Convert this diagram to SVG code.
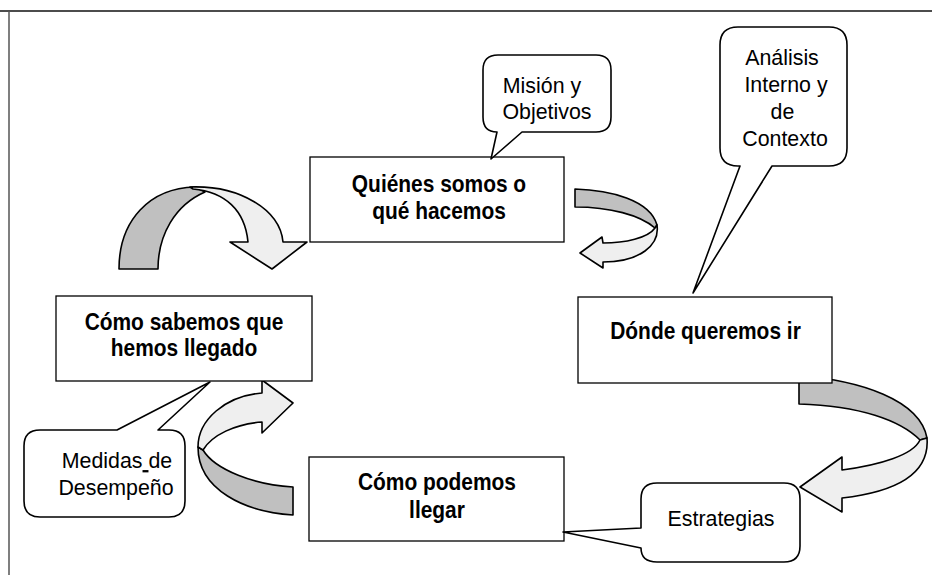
<svg xmlns="http://www.w3.org/2000/svg" width="932" height="575" viewBox="0 0 932 575">
<style>
.box{fill:#fff;stroke:#000;stroke-width:1.3}
.call{fill:#fff;stroke:#000;stroke-width:1.6;stroke-linejoin:round}
.back{fill:#c0c0c0;stroke:#000;stroke-width:1.6;stroke-linejoin:round}
.front{fill:#efefef;stroke:#000;stroke-width:1.6;stroke-linejoin:round}
.b{font-family:"Liberation Sans",Arial,sans-serif;font-weight:bold;font-size:23px;fill:#000;text-anchor:middle}
.r{font-family:"Liberation Sans",Arial,sans-serif;font-size:23px;fill:#000;text-anchor:middle}
</style>
<rect width="932" height="575" fill="#fff"/>
<line x1="0" y1="11" x2="932" y2="11" stroke="#111" stroke-width="1.5"/>
<line x1="9" y1="11" x2="9" y2="575" stroke="#555" stroke-width="1.5"/>

<g id="connectors">
  <g id="arrow-top-left">
    <path class="back" d="M119,269 C119,220 150,188 195,187 L205,192 C175,205 158,235 158,269 Z"/>
    <path class="front" d="M190,187 C240,185 280,210 283,242 L307,242 L272,269 L230,242 L248,242 C245,210 225,192 193,189 Z"/>
  </g>
  <g id="arrow-top-right">
    <path class="back" d="M575,189 C610,190 650,200 657,225 L655,228 C640,215 610,207 575,207 Z"/>
    <path class="front" d="M657,225 C660,245 640,262 603,262 L603,268 L580,253 L602,237 L603,243 C625,243 648,238 655,228 Z"/>
  </g>
  <g id="arrow-right">
    <path class="back" d="M799,376 C860,380 920,400 927,438 L920,440 C900,420 860,406 799,404 Z"/>
    <path class="front" d="M927,438 C930,475 895,492 842,498 L842,512 L800,487 L842,457 L842,470 C880,465 913,455 920,440 Z"/>
  </g>
  <g id="arrow-bottom-left">
    <path class="back" d="M293,515 C245,512 198,490 198,447 L203,450 C215,470 255,485 293,487 Z"/>
    <path class="front" d="M198,447 C198,420 225,396 262,393 L262,380 L293,403 L262,433 L262,422 C235,424 212,435 203,450 Z"/>
  </g>
</g>

<g id="node-quienes">
  <rect class="box" x="310" y="157" width="254" height="85"/>
  <text class="b" transform="translate(439,192) scale(0.91,1)">Quiénes somos o</text>
  <text class="b" transform="translate(439,219) scale(0.91,1)">qué hacemos</text>
</g>
<g id="node-donde">
  <rect class="box" x="578" y="297" width="254" height="86"/>
  <text class="b" transform="translate(705.5,339) scale(0.91,1)">Dónde queremos ir</text>
</g>
<g id="node-como-podemos">
  <rect class="box" x="309" y="457" width="255" height="84"/>
  <text class="b" transform="translate(437,490) scale(0.91,1)">Cómo podemos</text>
  <text class="b" transform="translate(437,518) scale(0.91,1)">llegar</text>
</g>
<g id="node-como-sabemos">
  <rect class="box" x="56" y="296" width="256" height="85"/>
  <text class="b" transform="translate(184,330) scale(0.91,1)">Cómo sabemos que</text>
  <text class="b" transform="translate(184,356) scale(0.91,1)">hemos llegado</text>
</g>

<g id="callout-mision">
  <path class="call" d="M498,55 L596,55 Q611,55 611,70 L611,117 Q611,132 596,132 L522,132 L491,159 L497,132 Q483,132 483,117 L483,70 Q483,55 498,55 Z"/>
  <text class="r" transform="translate(542,93) scale(0.93,1)">Misión y</text>
  <text class="r" transform="translate(547,119) scale(0.93,1)">Objetivos</text>
</g>
<g id="callout-analisis">
  <path class="call" d="M738,27 L829,27 Q847,27 847,45 L847,148 Q847,166 829,166 L772,166 L693,293 L740,166 L738,166 Q720,166 720,148 L720,45 Q720,27 738,27 Z"/>
  <text class="r" transform="translate(782,65) scale(0.93,1)">Análisis</text>
  <text class="r" transform="translate(786,92) scale(0.93,1)">Interno y</text>
  <text class="r" transform="translate(782.5,119) scale(0.93,1)">de</text>
  <text class="r" transform="translate(785,146) scale(0.93,1)">Contexto</text>
</g>
<g id="callout-medidas">
  <path class="call" d="M40,430 L117,430 L210,382 L158,430 L169,430 Q185,430 185,446 L185,501 Q185,517 169,517 L40,517 Q24,517 24,501 L24,446 Q24,430 40,430 Z"/>
  <text class="r" transform="translate(117,468) scale(0.93,1)">Medidas<tspan text-decoration="underline"> </tspan>de</text>
  <text class="r" transform="translate(116,495) scale(0.93,1)">Desempeño</text>
</g>
<g id="callout-estrategias">
  <path class="call" d="M657,483 L784,483 Q800,483 800,499 L800,546 Q800,562 784,562 L657,562 Q641,562 641,548 L563,532 L641,528 L641,499 Q641,483 657,483 Z"/>
  <text class="r" transform="translate(721,526) scale(0.93,1)">Estrategias</text>
</g>
</svg>
